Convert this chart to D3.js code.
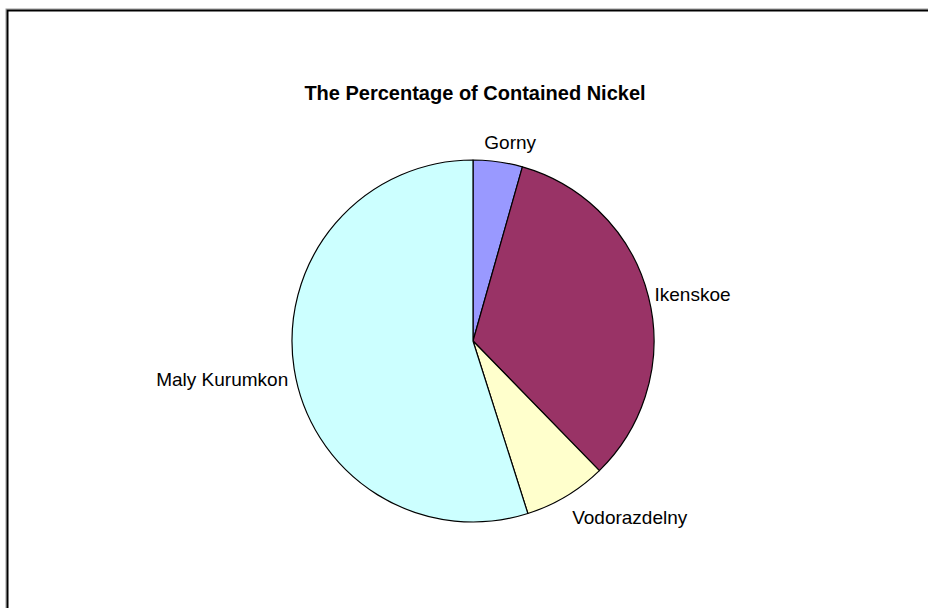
<!DOCTYPE html>
<html>
<head>
<meta charset="utf-8">
<script src="https://cdn.jsdelivr.net/npm/d3@7"></script>
<style>
  body { margin: 0; background: #fff; }
  text { font-family: "Liberation Sans", Arial, sans-serif; fill: #000; }
</style>
</head>
<body>
<script>
// data (percent of contained nickel)
var categories = ["Gorny", "Ikenskoe", "Vodorazdelny", "Maly Kurumkon"];
var values = [4.4, 33.3, 7.4, 54.9];
var colors = ["#9999FF", "#993366", "#FFFFCC", "#CCFFFF"];
var title = "The Percentage of Contained Nickel";

var width = 928, height = 608;
var cx = 473, cy = 341, radius = 181;

var svg = d3.select("body").append("svg")
    .attr("width", width)
    .attr("height", height);

svg.append("rect")
    .attr("width", width).attr("height", height)
    .attr("fill", "#fff");

// chart border (runs off the right and bottom edge), light shadow outside
svg.append("rect")
    .attr("x", 6).attr("y", 9)
    .attr("width", width + 20).attr("height", height + 20)
    .attr("fill", "none")
    .attr("stroke", "#999")
    .attr("stroke-width", 1);
svg.append("rect")
    .attr("x", 7.5).attr("y", 10.5)
    .attr("width", width + 20).attr("height", height + 20)
    .attr("fill", "none")
    .attr("stroke", "#000")
    .attr("stroke-width", 2);

svg.append("text")
    .attr("x", cx + 2).attr("y", 100)
    .attr("text-anchor", "middle")
    .style("font-size", "20px")
    .style("font-weight", "bold")
    .text(title);

var data = categories.map(function(c, i) { return {name: c, value: values[i], color: colors[i]}; });

var pie = d3.pie().sort(null).value(function(d) { return d.value; });
var arc = d3.arc().innerRadius(0).outerRadius(radius);

var g = svg.append("g")
    .attr("transform", "translate(" + cx + "," + cy + ")");

var arcs = pie(data);

g.selectAll("path")
    .data(arcs)
  .enter().append("path")
    .attr("d", arc)
    .attr("fill", function(d) { return d.data.color; })
    .attr("stroke", "#000")
    .attr("stroke-width", 1.2)
    .attr("stroke-linejoin", "round");

// labels placed just outside the pie, box corner touching the anchor point
var lr = radius + 6;
g.selectAll(".label")
    .data(arcs)
  .enter().append("text")
    .attr("class", "label")
    .style("font-size", "19px")
    .text(function(d) { return d.data.name; })
    .each(function(d) {
      var a = (d.startAngle + d.endAngle) / 2,
          s = Math.sin(a), c = Math.cos(a),
          px = lr * s, py = -lr * c,
          w = this.getComputedTextLength();
      var anchor = "middle", x = px + s * w * 1.6;
      if (s > 0.3) { anchor = "start"; x = px + 4 * c * c; }
      else if (s < -0.3) { anchor = "end"; x = px; }
      var y = py + 6;
      if (c < -0.1) y = py + 15 - c * 9;
      else if (c > 0.5) y = py - 7;
      d3.select(this).attr("x", x).attr("y", y).attr("text-anchor", anchor);
    });
</script>
</body>
</html>
